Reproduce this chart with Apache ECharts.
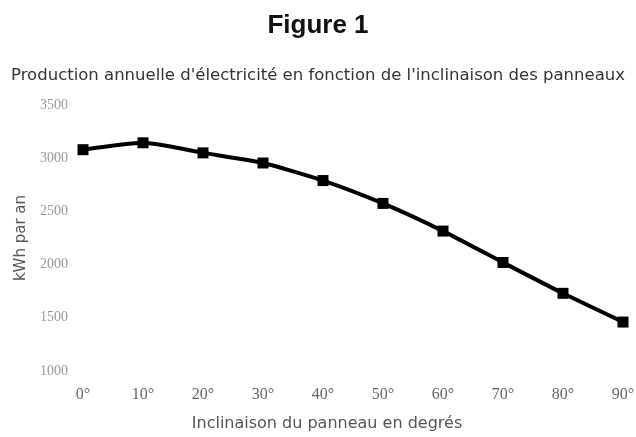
<!DOCTYPE html>
<html><head><meta charset="utf-8">
<script src="https://cdn.jsdelivr.net/npm/echarts@6/dist/echarts.min.js"></script>
<style>html,body{margin:0;padding:0;background:#fff}#c{width:636px;height:437px}</style>
</head><body><div id="c"></div>
<script>
const categories = ['0°','10°','20°','30°','40°','50°','60°','70°','80°','90°'];
const production = [3080, 3145, 3050, 2955, 2790, 2575, 2315, 2020, 1730, 1460];
const yTicks = [1000, 1500, 2000, 2500, 3000, 3500];

const chart = echarts.init(document.getElementById('c'), null, {renderer:'canvas'});
chart.setOption({
  backgroundColor:'#fff',
  animation:false,
  title:[
    {text:'Figure 1', left:'center', top:8, textStyle:{fontFamily:'Liberation Sans, Arial', fontSize:26, fontWeight:'bold', color:'#111'}},
    {text:"Production annuelle d'électricité en fonction de l'inclinaison des panneaux", left:'center', top:62, textStyle:{fontFamily:'DejaVu Sans', fontSize:16.5, fontWeight:'normal', color:'#333'}}
  ],
  grid:{left:83, right:13, top:105, bottom:66, containLabel:false, outerBoundsMode:'none'},
  xAxis:{
    type:'category', data:categories, boundaryGap:false,
    axisLine:{show:false}, axisTick:{show:false}, splitLine:{show:false},
    axisLabel:{margin:16, fontFamily:'Liberation Serif, Times New Roman', fontSize:16, color:'#666'},
    name:'Inclinaison du panneau en degrés', nameLocation:'middle', nameGap:45,
    nameTextStyle:{fontFamily:'DejaVu Sans', fontSize:16, color:'#555', padding:[0,52,0,0]}
  },
  yAxis:{
    type:'value', min:yTicks[0], max:yTicks[yTicks.length-1], interval:500,
    axisLine:{show:false}, axisTick:{show:false}, splitLine:{show:false},
    axisLabel:{margin:15, fontFamily:'Liberation Serif, Times New Roman', fontSize:14, color:'#999', formatter:v=>String(v)},
    name:'kWh par an', nameLocation:'middle', nameGap:54,
    nameTextStyle:{fontFamily:'DejaVu Sans', fontSize:15, color:'#555'}
  },
  series:[{
    type:'line', data:production, smooth:0.2,
    symbol:'rect', symbolSize:11,
    lineStyle:{color:'#000', width:4},
    itemStyle:{color:'#000'}
  }]
});
</script></body></html>
